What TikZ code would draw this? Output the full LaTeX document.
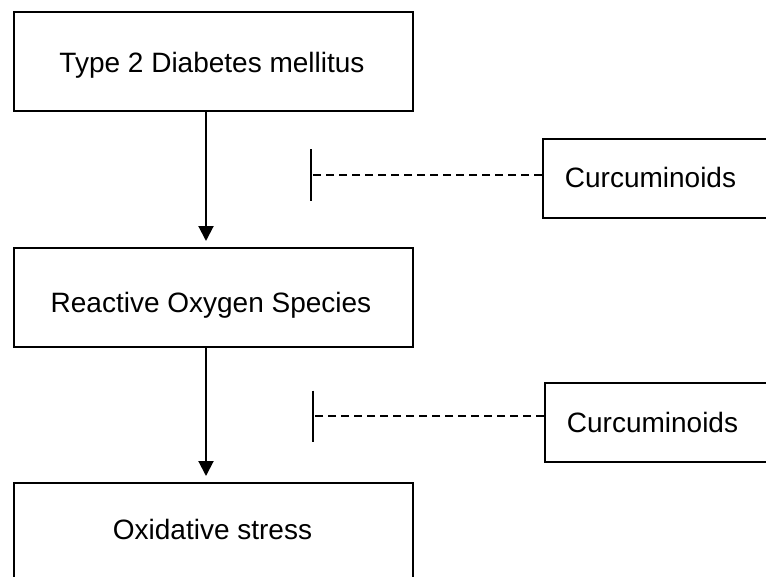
\documentclass[tikz,border=0pt]{standalone}
\usepackage{fontspec}
\setmainfont{Liberation Sans}
\usetikzlibrary{arrows.meta}
\begin{document}
\begin{tikzpicture}[x=1pt,y=-1pt,
  box/.style={draw=black,line width=2pt,rectangle,inner sep=0pt},
  lbl/.style={anchor=base,inner sep=0pt,font=\fontsize{28}{33}\selectfont},
  arr/.style={line width=2pt,-{Triangle[length=15pt,width=15pt]}},
  inh/.style={line width=1.4pt,dash pattern=on 8pt off 5pt},
  barline/.style={line width=1.4pt}]
\useasboundingbox (0,0) rectangle (766,576);
\clip (0,0) rectangle (766,576);
% boxes
\node[box,minimum width=399pt,minimum height=99pt] (b1) at (213.5,61.5) {};
\node[box,minimum width=399pt,minimum height=99pt] (b2) at (213.5,297.5) {};
\node[box,minimum width=399pt,minimum height=99pt] (b3) at (213.5,532.5) {};
\node[box,minimum width=240pt,minimum height=79pt] (c1) at (663,178.5) {};
\node[box,minimum width=240pt,minimum height=79pt] (c2) at (665,422.5) {};
% labels
\node[lbl] (t1) at (212,72) {Type 2 Diabetes mellitus};
\node[lbl] (t2) at (211,312) {Reactive Oxygen Species};
\node[lbl] (t3) at (212.5,539) {Oxidative stress};
\node[lbl] (t4) at (650.5,187) {Curcuminoids};
\node[lbl] (t5) at (652.5,432) {Curcuminoids};
% arrows
\draw[arr,shorten >=6pt] ([xshift=-7.5pt]b1.south) -- ([xshift=-7.5pt]b2.north);
\draw[arr,shorten >=6pt] ([xshift=-7.5pt]b2.south) -- ([xshift=-7.5pt]b3.north);
% inhibition
\coordinate (k1) at (311,175);
\coordinate (k2) at (313,416);
\draw[inh] (c1.west |- k1) -- (k1);
\draw[barline] (k1) ++(0,-26) -- ++(0,52);
\draw[inh] (c2.west |- k2) -- (k2);
\draw[barline] (k2) ++(0,-25.5) -- ++(0,51);
\end{tikzpicture}
\end{document}
